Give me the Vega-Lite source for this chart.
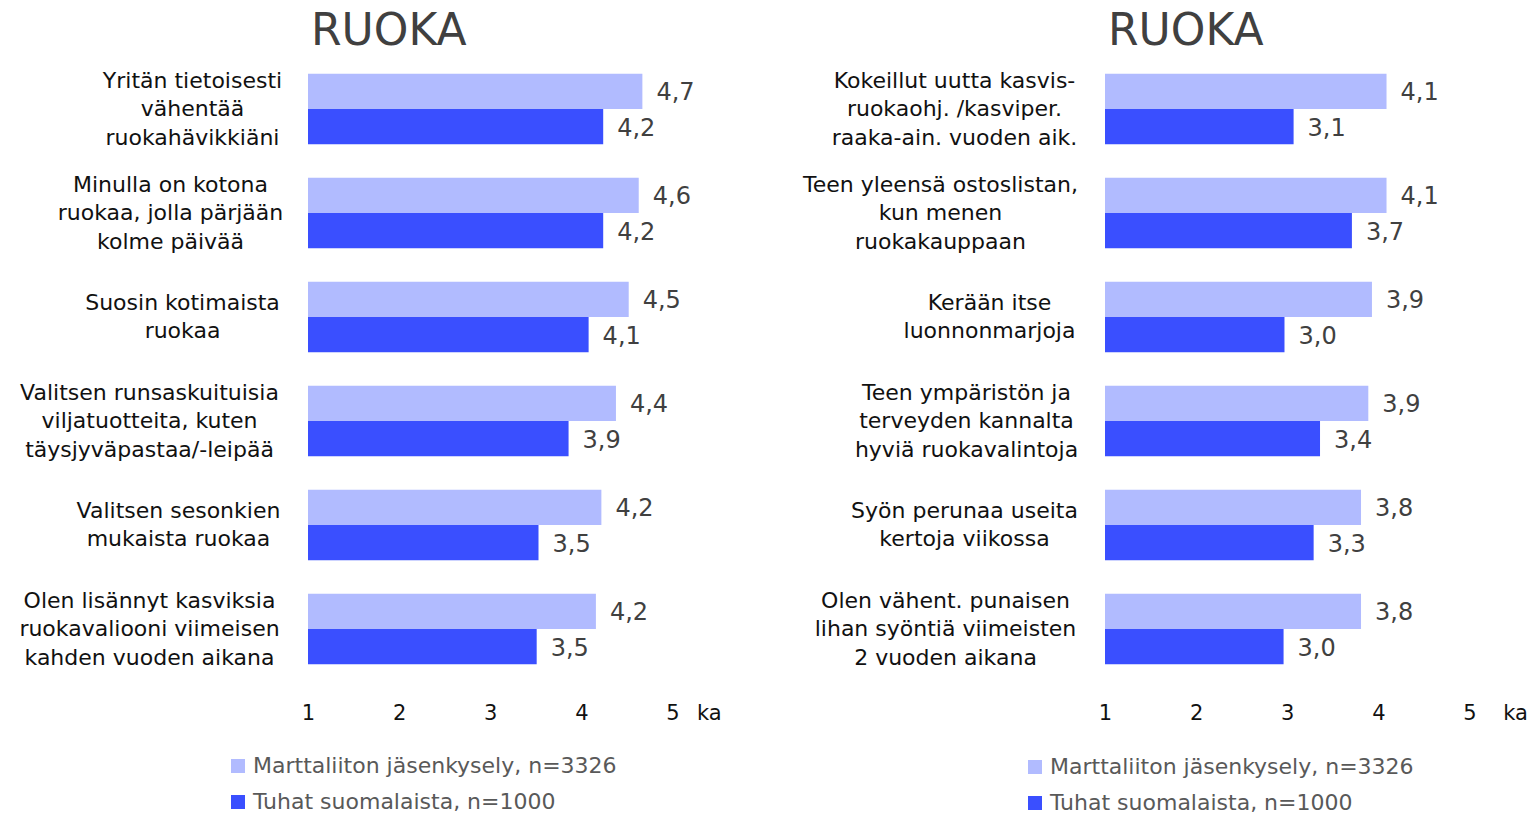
{
  "$schema": "https://vega.github.io/schema/vega-lite/v6.json",
  "padding": {"left": 8, "top": 10, "right": 5, "bottom": 5},
  "spacing": 80,
  "config": {
    "view": {"stroke": null},
    "font": "DejaVu Sans",
    "locale": {"number": {"decimal": ",", "thousands": " ", "grouping": [3], "currency": ["", " €"]}},
    "title": {"anchor": "start", "frame": "group", "fontSize": 44, "fontWeight": "normal", "color": "#404040", "font": "DejaVu Sans", "offset": 3, "dx": 3}
  },
  "datasets": {
    "left": [
      {"kysymys": "Yritän tietoisesti|vähentää|ruokahävikkiäni", "sarja": "Marttaliiton jäsenkysely, n=3326", "ka": 4.67},
      {"kysymys": "Yritän tietoisesti|vähentää|ruokahävikkiäni", "sarja": "Tuhat suomalaista, n=1000", "ka": 4.24},
      {"kysymys": "Minulla on kotona|ruokaa, jolla pärjään|kolme päivää", "sarja": "Marttaliiton jäsenkysely, n=3326", "ka": 4.63},
      {"kysymys": "Minulla on kotona|ruokaa, jolla pärjään|kolme päivää", "sarja": "Tuhat suomalaista, n=1000", "ka": 4.24},
      {"kysymys": "Suosin kotimaista|ruokaa", "sarja": "Marttaliiton jäsenkysely, n=3326", "ka": 4.52},
      {"kysymys": "Suosin kotimaista|ruokaa", "sarja": "Tuhat suomalaista, n=1000", "ka": 4.08},
      {"kysymys": "Valitsen runsaskuituisia|viljatuotteita, kuten|täysjyväpastaa/-leipää", "sarja": "Marttaliiton jäsenkysely, n=3326", "ka": 4.38},
      {"kysymys": "Valitsen runsaskuituisia|viljatuotteita, kuten|täysjyväpastaa/-leipää", "sarja": "Tuhat suomalaista, n=1000", "ka": 3.86},
      {"kysymys": "Valitsen sesonkien|mukaista ruokaa", "sarja": "Marttaliiton jäsenkysely, n=3326", "ka": 4.22},
      {"kysymys": "Valitsen sesonkien|mukaista ruokaa", "sarja": "Tuhat suomalaista, n=1000", "ka": 3.53},
      {"kysymys": "Olen lisännyt kasviksia|ruokavaliooni viimeisen|kahden vuoden aikana", "sarja": "Marttaliiton jäsenkysely, n=3326", "ka": 4.16},
      {"kysymys": "Olen lisännyt kasviksia|ruokavaliooni viimeisen|kahden vuoden aikana", "sarja": "Tuhat suomalaista, n=1000", "ka": 3.51}
    ],
    "right": [
      {"kysymys": "Kokeillut uutta kasvis-|ruokaohj. /kasviper.|raaka-ain. vuoden aik.", "sarja": "Marttaliiton jäsenkysely, n=3326", "ka": 4.09},
      {"kysymys": "Kokeillut uutta kasvis-|ruokaohj. /kasviper.|raaka-ain. vuoden aik.", "sarja": "Tuhat suomalaista, n=1000", "ka": 3.07},
      {"kysymys": "Teen yleensä ostoslistan,|kun menen|ruokakauppaan", "sarja": "Marttaliiton jäsenkysely, n=3326", "ka": 4.09},
      {"kysymys": "Teen yleensä ostoslistan,|kun menen|ruokakauppaan", "sarja": "Tuhat suomalaista, n=1000", "ka": 3.71},
      {"kysymys": "Kerään itse|luonnonmarjoja", "sarja": "Marttaliiton jäsenkysely, n=3326", "ka": 3.93},
      {"kysymys": "Kerään itse|luonnonmarjoja", "sarja": "Tuhat suomalaista, n=1000", "ka": 2.97},
      {"kysymys": "Teen ympäristön ja|terveyden kannalta|hyviä ruokavalintoja", "sarja": "Marttaliiton jäsenkysely, n=3326", "ka": 3.89},
      {"kysymys": "Teen ympäristön ja|terveyden kannalta|hyviä ruokavalintoja", "sarja": "Tuhat suomalaista, n=1000", "ka": 3.36},
      {"kysymys": "Syön perunaa useita|kertoja viikossa", "sarja": "Marttaliiton jäsenkysely, n=3326", "ka": 3.81},
      {"kysymys": "Syön perunaa useita|kertoja viikossa", "sarja": "Tuhat suomalaista, n=1000", "ka": 3.29},
      {"kysymys": "Olen vähent. punaisen|lihan syöntiä viimeisten|2 vuoden aikana", "sarja": "Marttaliiton jäsenkysely, n=3326", "ka": 3.81},
      {"kysymys": "Olen vähent. punaisen|lihan syöntiä viimeisten|2 vuoden aikana", "sarja": "Tuhat suomalaista, n=1000", "ka": 2.96}
    ]
  },
  "resolve": {"scale": {"color": "independent"}, "legend": {"color": "independent"}},
  "hconcat": [
    {
      "title": "RUOKA",
      "width": 410,
      "height": 624,
      "data": {"name": "left"},
      "encoding": {
        "y": {
          "field": "kysymys", "type": "nominal", "sort": null,
          "scale": {"paddingInner": 0.32, "paddingOuter": 0.16},
          "axis": {
            "title": null, "ticks": false, "domain": false,
            "labelExpr": "split(datum.label, '|')",
            "labelAlign": "center", "labelBaseline": "middle",
            "labelFontSize": 22, "labelLineHeight": 28.5, "labelColor": "#111111", "labelLimit": 0,
            "minExtent": 300, "maxExtent": 300,
            "labelOffset": {
              "condition": {"test": "length(split(datum.value, '|')) == 3", "value": -28.5},
              "value": -14.25
            },
            "labelPadding": {
              "condition": [
                {"test": "indexof(datum.value, 'Yritän') == 0", "value": 116},
                {"test": "indexof(datum.value, 'Minulla') == 0", "value": 138},
                {"test": "indexof(datum.value, 'Suosin') == 0", "value": 126},
                {"test": "indexof(datum.value, 'Valitsen runsas') == 0", "value": 159},
                {"test": "indexof(datum.value, 'Valitsen seson') == 0", "value": 130}
              ],
              "value": 159
            }
          }
        },
        "yOffset": {"field": "sarja", "type": "nominal", "sort": ["Marttaliiton jäsenkysely, n=3326", "Tuhat suomalaista, n=1000"], "scale": {"paddingInner": 0, "paddingOuter": 0}},
        "x": {
          "field": "ka", "type": "quantitative",
          "scale": {"domain": [1, 5.5], "nice": false, "zero": false},
          "axis": {
            "title": null, "grid": false, "ticks": false, "domain": false,
            "values": [1, 2, 3, 4, 5, 5.4], "tickCount": 6,
            "labelExpr": "datum.value > 5 ? 'ka' : format(datum.value, 'd')",
            "labelOverlap": false, "labelBound": false, "labelSeparation": -50,
            "labelFontSize": 21, "labelColor": "#111111", "labelPadding": 21, "labelFlush": false
          }
        }
      },
      "layer": [
        {
          "mark": {"type": "bar"},
          "encoding": {
            "x2": {"datum": 1},
            "color": {
              "field": "sarja", "type": "nominal",
              "scale": {"domain": ["Marttaliiton jäsenkysely, n=3326", "Tuhat suomalaista, n=1000"], "range": ["#B1BBFF", "#3A4FFF"]},
              "legend": {
                "title": null, "orient": "none", "legendX": -81, "legendY": 698,
                "symbolType": "square", "symbolSize": 196, "symbolStrokeWidth": 0,
                "labelFontSize": 22, "labelColor": "#595959", "rowPadding": 14, "labelOffset": 4, "padding": 0, "labelLimit": 0
              }
            }
          }
        },
        {
          "mark": {"type": "text", "align": "left", "baseline": "middle", "dx": 14, "dy": 2, "fontSize": 24, "color": "#404040"},
          "encoding": {"text": {"field": "ka", "type": "quantitative", "format": ".1f"}}
        }
      ]
    },
    {
      "title": "RUOKA",
      "width": 410,
      "height": 624,
      "data": {"name": "right"},
      "encoding": {
        "y": {
          "field": "kysymys", "type": "nominal", "sort": null,
          "scale": {"paddingInner": 0.32, "paddingOuter": 0.16},
          "axis": {
            "title": null, "ticks": false, "domain": false,
            "labelExpr": "split(datum.label, '|')",
            "labelAlign": "center", "labelBaseline": "middle",
            "labelFontSize": 22, "labelLineHeight": 28.5, "labelColor": "#111111", "labelLimit": 0,
            "minExtent": 300, "maxExtent": 300,
            "labelOffset": {
              "condition": {"test": "length(split(datum.value, '|')) == 3", "value": -28.5},
              "value": -14.25
            },
            "labelPadding": {
              "condition": [
                {"test": "indexof(datum.value, 'Kokeillut') == 0", "value": 151},
                {"test": "indexof(datum.value, 'Teen yleensä') == 0", "value": 165},
                {"test": "indexof(datum.value, 'Kerään') == 0", "value": 116},
                {"test": "indexof(datum.value, 'Teen ympäristön') == 0", "value": 139},
                {"test": "indexof(datum.value, 'Syön') == 0", "value": 141}
              ],
              "value": 160
            }
          }
        },
        "yOffset": {"field": "sarja", "type": "nominal", "sort": ["Marttaliiton jäsenkysely, n=3326", "Tuhat suomalaista, n=1000"], "scale": {"paddingInner": 0, "paddingOuter": 0}},
        "x": {
          "field": "ka", "type": "quantitative",
          "scale": {"domain": [1, 5.5], "nice": false, "zero": false},
          "axis": {
            "title": null, "grid": false, "ticks": false, "domain": false,
            "values": [1, 2, 3, 4, 5, 5.5], "tickCount": 6,
            "labelExpr": "datum.value > 5 ? 'ka' : format(datum.value, 'd')",
            "labelOverlap": false, "labelBound": false, "labelSeparation": -50,
            "labelFontSize": 21, "labelColor": "#111111", "labelPadding": 21, "labelFlush": false
          }
        }
      },
      "layer": [
        {
          "mark": {"type": "bar"},
          "encoding": {
            "x2": {"datum": 1},
            "color": {
              "field": "sarja", "type": "nominal",
              "scale": {"domain": ["Marttaliiton jäsenkysely, n=3326", "Tuhat suomalaista, n=1000"], "range": ["#B1BBFF", "#3A4FFF"]},
              "legend": {
                "title": null, "orient": "none", "legendX": -81, "legendY": 699,
                "symbolType": "square", "symbolSize": 196, "symbolStrokeWidth": 0,
                "labelFontSize": 22, "labelColor": "#595959", "rowPadding": 14, "labelOffset": 4, "padding": 0, "labelLimit": 0
              }
            }
          }
        },
        {
          "mark": {"type": "text", "align": "left", "baseline": "middle", "dx": 14, "dy": 2, "fontSize": 24, "color": "#404040"},
          "encoding": {"text": {"field": "ka", "type": "quantitative", "format": ".1f"}}
        }
      ]
    }
  ]
}
